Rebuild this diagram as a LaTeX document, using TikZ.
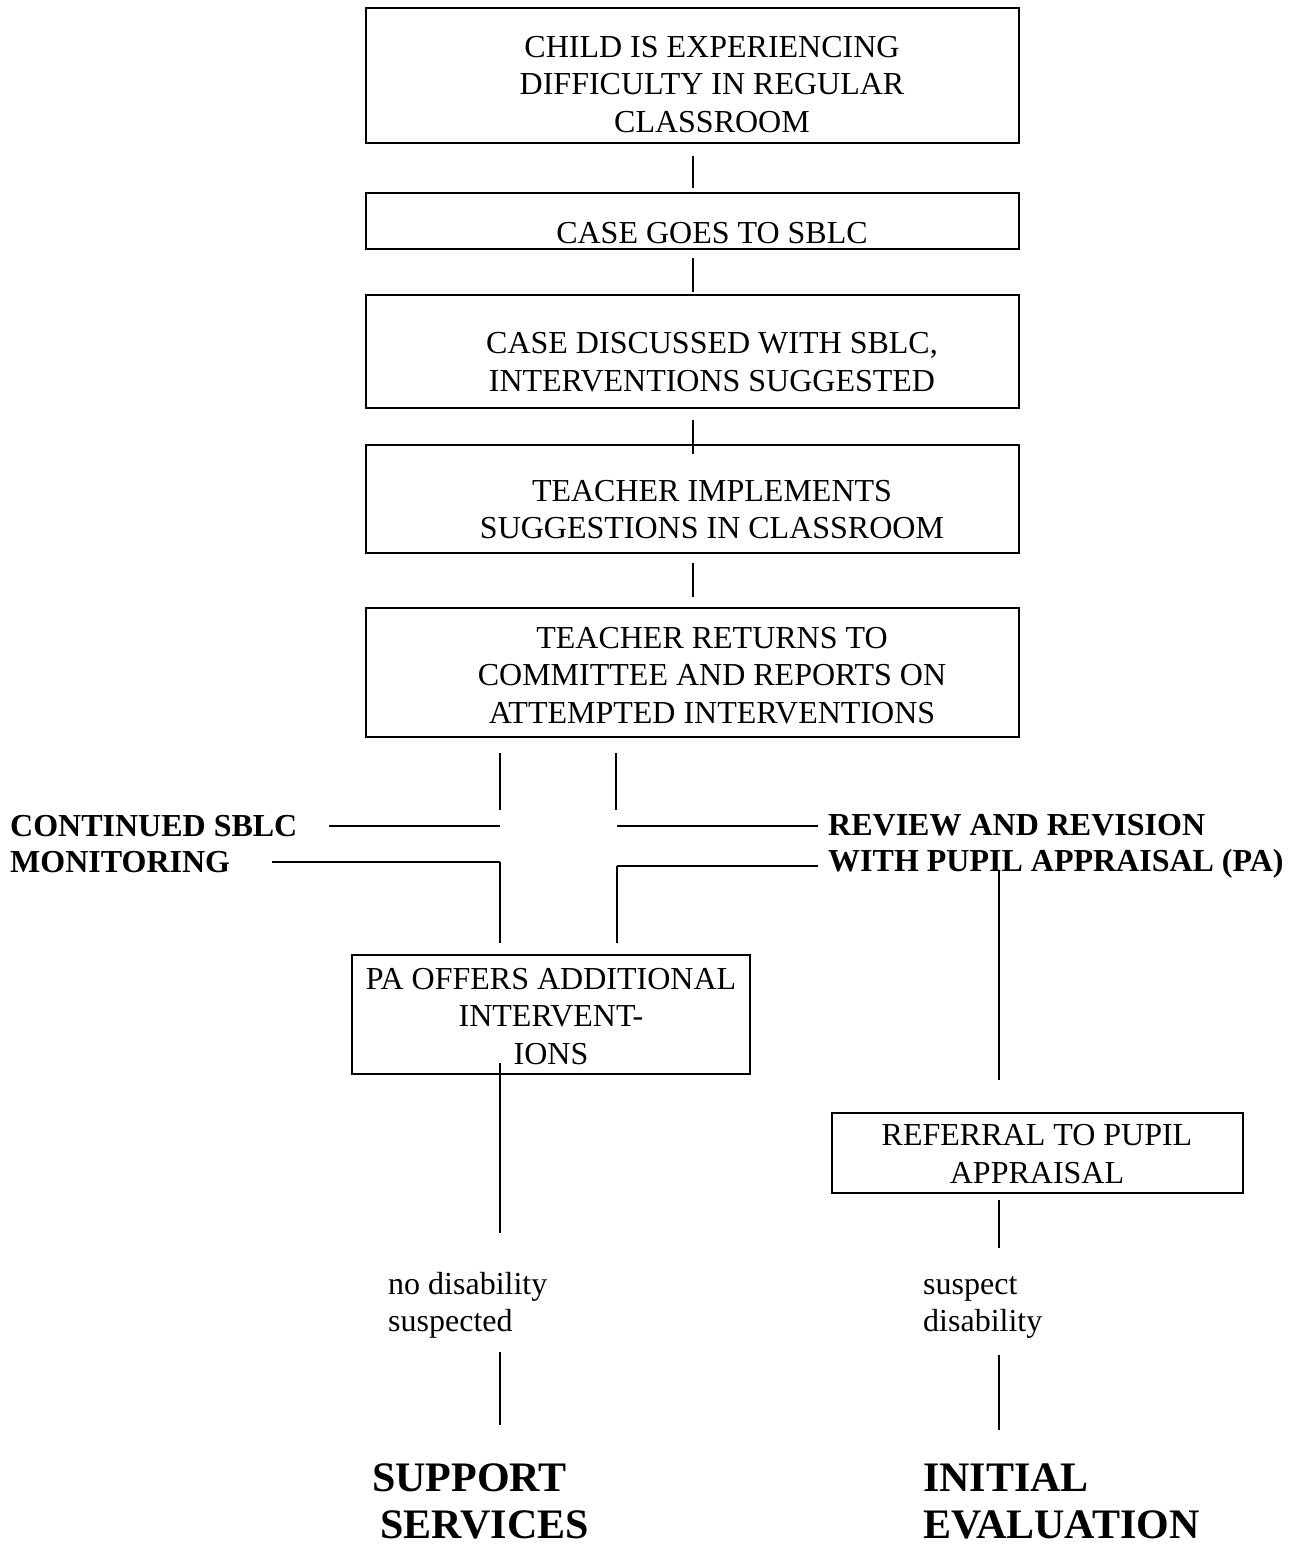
\documentclass[tikz,border=0pt]{standalone}
\usepackage{fontspec}
\setmainfont{Liberation Serif}
\begin{document}
\begin{tikzpicture}[x=1pt,y=-1pt,
  box/.style={draw, line width=2pt, inner sep=0pt},
  txt/.style={font=\fontsize{32}{37.5}\selectfont, align=center, inner sep=0pt},
  lbl/.style={font=\bfseries\fontsize{32}{36}\selectfont, align=left, inner sep=0pt, anchor=west},
  note/.style={font=\fontsize{32}{37}\selectfont, align=left, inner sep=0pt, anchor=west},
  big/.style={font=\bfseries\fontsize{42}{47}\selectfont, align=left, inner sep=0pt, anchor=west},
  conn/.style={line width=2pt},
  hconn/.style={line width=2.5pt}]
\useasboundingbox (0,0) rectangle (1296,1545);

% boxes
\node[box, minimum width=653pt, minimum height=135pt] (b1) at (692.5,75.5) {};
\node[txt] (t1) at (712,84.5) {CHILD IS EXPERIENCING\\DIFFICULTY IN REGULAR\\CLASSROOM};
\node[box, minimum width=653pt, minimum height=56pt] (b2) at (692.5,221) {};
\node[txt] (t2) at (712,233) {CASE GOES TO SBLC};
\node[box, minimum width=653pt, minimum height=113pt] (b3) at (692.5,351.5) {};
\node[txt] (t3) at (712,362) {CASE DISCUSSED WITH SBLC,\\INTERVENTIONS SUGGESTED};
\node[box, minimum width=653pt, minimum height=108pt] (b4) at (692.5,499) {};
\node[txt] (t4) at (712,509.5) {TEACHER IMPLEMENTS\\SUGGESTIONS IN CLASSROOM};
\node[box, minimum width=653pt, minimum height=129pt] (b5) at (692.5,672.5) {};
\node[txt] (t5) at (712,675.5) {TEACHER RETURNS TO\\COMMITTEE AND REPORTS ON\\ATTEMPTED INTERVENTIONS};
\node[box, minimum width=398pt, minimum height=119pt] (pa) at (551,1014.5) {};
\node[txt] (tpa) at (551,1016.5) {PA OFFERS ADDITIONAL\\INTERVENT-\\IONS};
\node[box, minimum width=411pt, minimum height=80pt] (ref) at (1037.5,1153) {};
\node[txt] (tref) at (1037,1154) {REFERRAL TO PUPIL\\APPRAISAL};

% side labels
\node[lbl] (cont) at (10,844) {CONTINUED SBLC\\MONITORING};
\node[lbl] (rev) at (828,846) {REVIEW AND REVISION\\WITH PUPIL APPRAISAL (PA)};
\node[note] (nods) at (388,1305) {no disability\\suspected};
\node[note] (susp) at (923,1307) {suspect\\disability};
\node[big] (supp) at (372,1501.5) {SUPPORT\\\hspace*{8pt}SERVICES};
\node[big] (init) at (923,1501.5) {INITIAL\\EVALUATION};

% main vertical connectors
\draw[conn, shorten <=12pt, shorten >=4pt] (b1.south) -- (b2.north);
\draw[conn, shorten <=8pt, shorten >=2pt] (b2.south) -- (b3.north);
\draw[conn, shorten <=11pt, shorten >=-10pt] (b3.south) -- (b4.north);
\draw[conn, shorten <=9pt, shorten >=10pt] (b4.south) -- (b5.north);

% branch coordinates
\coordinate (la) at (500,753);
\coordinate (lb) at (500,810);
\coordinate (ra) at (616,753);
\coordinate (rb) at (616,810);
\coordinate (c1) at (329,826);
\coordinate (c2) at (500,826);
\coordinate (r1) at (617,826);
\coordinate (r2) at (818,826);
\coordinate (m1) at (272,862);
\coordinate (m2) at (500,862);
\coordinate (m3) at (500,943);
\coordinate (w1) at (818,866);
\coordinate (w2) at (617,866);
\coordinate (w3) at (617,943);
\coordinate (v1) at (999,870);
\coordinate (v2) at (999,1080);
\coordinate (p1) at (500,1063);
\coordinate (p2) at (500,1233);
\coordinate (q1) at (999,1200);
\coordinate (q2) at (999,1248);
\coordinate (n1) at (500,1352);
\coordinate (n2) at (500,1425);
\coordinate (s1) at (999,1355);
\coordinate (s2) at (999,1430);

\draw[conn] (la) -- (lb);
\draw[conn] (ra) -- (rb);
\draw[hconn] (c1) -- (c2);
\draw[hconn] (r1) -- (r2);
\draw[hconn] (m1) -- (m2);
\draw[conn] (m2) -- (m3);
\draw[hconn] (w1) -- (w2);
\draw[conn] (w2) -- (w3);
\draw[conn] (v1) -- (v2);
\draw[conn] (p1) -- (p2);
\draw[conn] (q1) -- (q2);
\draw[conn] (n1) -- (n2);
\draw[conn] (s1) -- (s2);
\end{tikzpicture}
\end{document}
